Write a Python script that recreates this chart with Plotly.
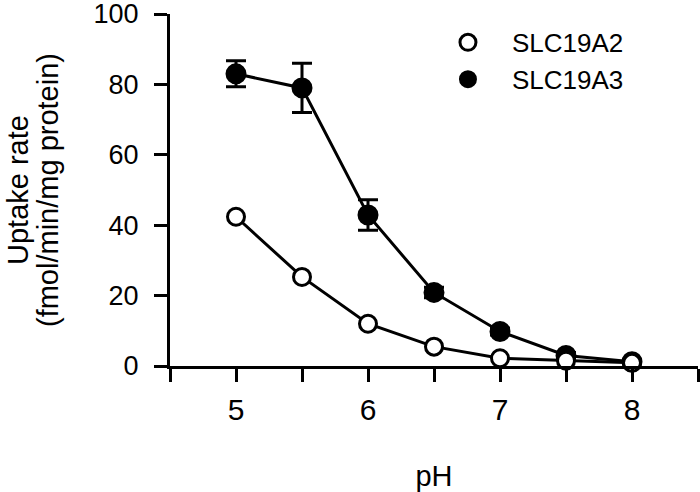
import plotly.graph_objects as go

ph = [5.0, 5.5, 6.0, 6.5, 7.0, 7.5, 8.0]
slc19a2 = [42.4, 25.3, 12.0, 5.5, 2.2, 1.5, 0.9]
slc19a3 = [83.0, 79.0, 42.9, 20.9, 9.8, 3.0, 1.2]
slc19a3_err = [3.7, 7.0, 4.3, 1.5, 1.0, 0.8, 0.5]

x_tickvals = [4.5, 5, 5.5, 6, 6.5, 7, 7.5, 8, 8.5]
x_ticktext = ["", "5", "", "6", "", "7", "", "8", ""]
y_tickvals = [0, 20, 40, 60, 80, 100]

FONT = "Liberation Sans, Arial, sans-serif"

fig = go.Figure()
fig.add_trace(go.Scatter(
    x=ph, y=slc19a3, name="SLC19A3", mode="lines+markers",
    line=dict(color="black", width=3),
    marker=dict(symbol="circle", size=19, color="black", line=dict(color="black", width=2)),
    error_y=dict(type="data", array=slc19a3_err, visible=True, color="black", thickness=3, width=10),
    cliponaxis=False, showlegend=False,
))
fig.add_trace(go.Scatter(
    x=ph, y=slc19a2, name="SLC19A2", mode="lines+markers",
    line=dict(color="black", width=3),
    marker=dict(symbol="circle", size=17, color="white", line=dict(color="black", width=3)),
    cliponaxis=False, showlegend=False,
))
# legend entries (markers only, as in the reference)
fig.add_trace(go.Scatter(
    x=[None], y=[None], name="SLC19A2", mode="markers",
    marker=dict(symbol="circle", size=17, color="white", line=dict(color="black", width=3)),
))
fig.add_trace(go.Scatter(
    x=[None], y=[None], name="SLC19A3", mode="markers",
    marker=dict(symbol="circle", size=19, color="black", line=dict(color="black", width=2)),
))

fig.update_layout(
    width=700, height=492,
    margin=dict(l=170, r=2, t=14, b=126),
    paper_bgcolor="white", plot_bgcolor="white",
    font=dict(family=FONT, color="black", size=26),
    showlegend=True,
    legend=dict(x=0.481, y=0.986, xanchor="left", yanchor="top",
                bgcolor="rgba(0,0,0,0)", font=dict(size=26, family=FONT),
                itemwidth=78, tracegroupgap=0, itemsizing="trace"),
    xaxis=dict(
        range=[4.5, 8.5], tickvals=x_tickvals, ticktext=x_ticktext,
        showline=True, linecolor="black", linewidth=3,
        ticks="outside", ticklen=13, tickwidth=3, tickcolor="black",
        showgrid=False, zeroline=False, automargin=False,
        tickfont=dict(size=30, family=FONT), ticklabelstandoff=2,
        ticklabeloverflow="allow",
        title=dict(text="pH", font=dict(size=29, family=FONT), standoff=42),
    ),
    yaxis=dict(
        range=[0, 100], tickvals=y_tickvals,
        showline=True, linecolor="black", linewidth=3,
        ticks="outside", ticklen=13, tickwidth=3, tickcolor="black",
        showgrid=False, zeroline=False, automargin=False,
        tickfont=dict(size=27, family=FONT), ticklabelstandoff=10,
        ticklabeloverflow="allow",
    ),
    annotations=[
        dict(text="Uptake rate", xref="paper", yref="paper", x=0, y=0.5,
             xshift=-152, xanchor="center", yanchor="middle", textangle=-90,
             showarrow=False, font=dict(size=29, family=FONT)),
        dict(text="(fmol/min/mg protein)", xref="paper", yref="paper", x=0, y=0.5,
             xshift=-122, xanchor="center", yanchor="middle", textangle=-90,
             showarrow=False, font=dict(size=29, family=FONT)),
    ],
)

fig.write_html(
    "out.html",
    config={"displayModeBar": False},
    post_script="document.body.style.margin='0';document.body.style.overflow='hidden';",
)
